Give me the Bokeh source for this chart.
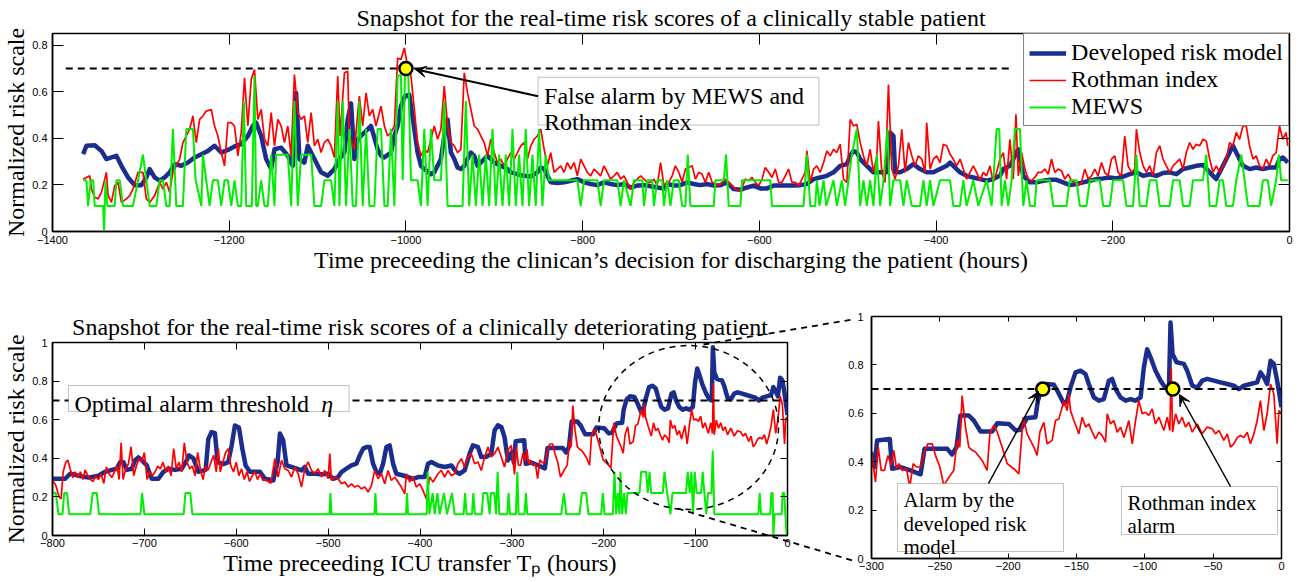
from bokeh.plotting import figure
from bokeh.models import (Range1d, LinearAxis, FixedTicker, Arrow, VeeHead, BoxAnnotation, Label,
                          GridBox, Plot)
from bokeh.embed import file_html
from bokeh.resources import INLINE

SERIF = "Liberation Serif"
SANS = "Liberation Sans"
BLUE = "#1b2d8d"
RED = "#ff0000"
GREEN = "#00ee00"

# ------------------------------------------------------------------ data
# Clinically stable patient (hours before discharge, normalized risk)
stable_model = [
    (-1365.3, 0.332), (-1361.6, 0.368), (-1352.2, 0.37), (-1344.6, 0.346), (-1339.0, 0.311), (-1333.3, 0.318),
    (-1327.7, 0.325), (-1322.0, 0.282), (-1314.5, 0.232), (-1307.0, 0.199), (-1299.4, 0.199), (-1293.8, 0.232),
    (-1290.0, 0.268), (-1284.4, 0.232), (-1278.7, 0.218), (-1273.1, 0.232), (-1267.4, 0.254), (-1261.8, 0.289),
    (-1254.2, 0.282), (-1246.7, 0.296), (-1239.2, 0.318), (-1231.6, 0.332), (-1224.1, 0.346), (-1216.6, 0.368),
    (-1209.0, 0.339), (-1201.5, 0.35), (-1194.0, 0.365), (-1186.4, 0.375), (-1178.9, 0.41), (-1173.3, 0.453),
    (-1169.5, 0.467), (-1163.8, 0.41), (-1158.2, 0.311), (-1152.5, 0.268), (-1148.8, 0.353), (-1141.2, 0.36),
    (-1133.7, 0.325), (-1128.1, 0.282), (-1124.3, 0.595), (-1120.5, 0.311), (-1114.9, 0.296), (-1111.1, 0.368),
    (-1103.6, 0.311), (-1096.0, 0.254), (-1088.5, 0.239), (-1081.0, 0.268), (-1075.3, 0.311), (-1069.6, 0.339),
    (-1065.9, 0.48), (-1062.1, 0.55), (-1058.3, 0.311), (-1054.6, 0.396), (-1047.0, 0.425), (-1039.5, 0.453),
    (-1032.0, 0.353), (-1028.2, 0.325), (-1024.4, 0.318), (-1016.9, 0.339), (-1013.1, 0.41), (-1009.4, 0.453),
    (-1005.6, 0.538), (-1001.1, 0.581), (-996.2, 0.588), (-990.5, 0.439), (-986.8, 0.339), (-983.0, 0.282),
    (-979.2, 0.268), (-971.7, 0.246), (-967.9, 0.254), (-964.2, 0.282), (-960.4, 0.311), (-956.6, 0.41),
    (-952.9, 0.481), (-949.1, 0.339), (-945.3, 0.311), (-941.6, 0.275), (-937.8, 0.268), (-934.0, 0.282),
    (-930.3, 0.311), (-926.5, 0.339), (-922.7, 0.325), (-919.0, 0.282), (-915.2, 0.296), (-911.4, 0.311),
    (-907.7, 0.325), (-903.9, 0.311), (-900.1, 0.296), (-896.4, 0.289), (-892.6, 0.282), (-888.8, 0.275),
    (-885.1, 0.268), (-881.3, 0.254), (-873.8, 0.246), (-866.2, 0.239), (-858.7, 0.236), (-851.2, 0.254),
    (-847.4, 0.275), (-843.6, 0.268), (-836.1, 0.211), (-828.6, 0.208), (-821.0, 0.211), (-813.5, 0.218),
    (-806.0, 0.225), (-798.4, 0.211), (-790.9, 0.204), (-783.4, 0.199), (-775.8, 0.211), (-768.3, 0.204),
    (-760.8, 0.199), (-753.2, 0.204), (-745.7, 0.189), (-738.2, 0.197), (-730.6, 0.199), (-723.1, 0.194),
    (-715.6, 0.189), (-708.0, 0.185), (-704.4, 0.204), (-696.8, 0.197), (-689.3, 0.199), (-681.8, 0.211),
    (-674.2, 0.204), (-666.7, 0.199), (-659.2, 0.204), (-651.6, 0.197), (-644.1, 0.199), (-636.6, 0.211),
    (-629.0, 0.182), (-621.5, 0.179), (-614.0, 0.189), (-606.4, 0.197), (-598.9, 0.185), (-591.4, 0.185),
    (-583.8, 0.197), (-576.3, 0.197), (-568.8, 0.197), (-561.2, 0.197), (-553.7, 0.199), (-546.2, 0.204),
    (-538.6, 0.225), (-531.1, 0.232), (-523.6, 0.239), (-516.1, 0.254), (-508.5, 0.282), (-501.0, 0.289),
    (-497.2, 0.325), (-493.5, 0.346), (-489.7, 0.339), (-485.9, 0.311), (-478.4, 0.282), (-470.9, 0.254),
    (-463.3, 0.254), (-455.8, 0.254), (-452.0, 0.425), (-448.2, 0.41), (-446.4, 0.254), (-440.7, 0.254),
    (-433.2, 0.268), (-425.7, 0.289), (-418.1, 0.268), (-410.6, 0.254), (-403.0, 0.254), (-395.5, 0.268),
    (-388.0, 0.282), (-384.2, 0.296), (-380.5, 0.282), (-372.9, 0.254), (-365.4, 0.239), (-357.9, 0.232),
    (-350.3, 0.225), (-342.8, 0.218), (-335.3, 0.225), (-327.7, 0.239), (-323.9, 0.268), (-316.4, 0.282),
    (-312.6, 0.311), (-307.0, 0.353), (-301.3, 0.239), (-293.8, 0.211), (-286.3, 0.211), (-278.7, 0.218),
    (-271.2, 0.222), (-263.7, 0.222), (-256.1, 0.211), (-248.6, 0.199), (-241.1, 0.204), (-233.5, 0.211),
    (-226.0, 0.218), (-218.5, 0.225), (-210.9, 0.228), (-203.4, 0.232), (-195.9, 0.228), (-188.3, 0.236),
    (-180.8, 0.246), (-173.3, 0.254), (-165.7, 0.239), (-158.2, 0.246), (-150.7, 0.239), (-143.1, 0.251),
    (-135.6, 0.254), (-128.1, 0.246), (-120.5, 0.268), (-113.0, 0.275), (-105.5, 0.282), (-97.9, 0.285),
    (-90.4, 0.254), (-82.9, 0.225), (-75.3, 0.282), (-67.8, 0.339), (-64.0, 0.368), (-60.3, 0.339),
    (-52.7, 0.282), (-45.2, 0.268), (-37.7, 0.275), (-30.1, 0.268), (-22.6, 0.275), (-15.1, 0.275),
    (-11.3, 0.311), (-7.6, 0.318), (-2.0, 0.296),
]

stable_rothman = [
    (-1365.3, 0.225), (-1361.6, 0.232), (-1357.8, 0.239), (-1355.9, 0.182), (-1352.2, 0.147), (-1348.4, 0.14),
    (-1344.6, 0.168), (-1339.0, 0.254), (-1337.1, 0.154), (-1333.3, 0.125), (-1329.6, 0.197), (-1325.8, 0.211),
    (-1322.0, 0.125), (-1316.4, 0.14), (-1312.6, 0.154), (-1308.9, 0.182), (-1303.2, 0.254), (-1297.6, 0.254),
    (-1293.8, 0.14), (-1290.0, 0.125), (-1284.4, 0.154), (-1278.7, 0.211), (-1275.0, 0.182), (-1271.2, 0.211),
    (-1267.4, 0.168), (-1263.7, 0.254), (-1259.9, 0.282), (-1256.1, 0.311), (-1252.4, 0.382), (-1248.6, 0.41),
    (-1244.8, 0.439), (-1241.1, 0.496), (-1237.3, 0.382), (-1233.5, 0.481), (-1229.8, 0.496), (-1226.0, 0.517),
    (-1220.3, 0.524), (-1216.6, 0.453), (-1212.8, 0.41), (-1209.0, 0.339), (-1205.3, 0.282), (-1201.5, 0.467),
    (-1197.7, 0.467), (-1194.0, 0.453), (-1190.2, 0.325), (-1186.4, 0.425), (-1182.7, 0.66), (-1178.9, 0.453),
    (-1175.1, 0.652), (-1171.4, 0.695), (-1167.6, 0.481), (-1163.8, 0.524), (-1160.1, 0.396), (-1156.3, 0.368),
    (-1152.5, 0.51), (-1148.8, 0.368), (-1145.0, 0.481), (-1141.2, 0.453), (-1137.5, 0.382), (-1133.7, 0.453),
    (-1129.9, 0.325), (-1126.2, 0.674), (-1122.4, 0.51), (-1118.6, 0.481), (-1114.9, 0.496), (-1111.1, 0.382),
    (-1107.3, 0.51), (-1103.6, 0.368), (-1099.8, 0.396), (-1096.0, 0.339), (-1092.3, 0.382), (-1088.5, 0.396),
    (-1084.7, 0.368), (-1081.0, 0.318), (-1077.2, 0.667), (-1074.5, 0.41), (-1069.6, 0.681), (-1065.9, 0.688),
    (-1064.0, 0.41), (-1058.3, 0.353), (-1052.7, 0.581), (-1048.9, 0.453), (-1045.1, 0.595), (-1041.4, 0.496),
    (-1037.6, 0.524), (-1033.9, 0.453), (-1028.2, 0.538), (-1024.4, 0.453), (-1020.7, 0.41), (-1016.9, 0.425),
    (-1013.1, 0.453), (-1009.4, 0.745), (-1005.6, 0.738), (-1001.8, 0.788), (-998.1, 0.709), (-994.3, 0.667),
    (-990.5, 0.524), (-986.8, 0.382), (-983.0, 0.325), (-979.2, 0.353), (-975.5, 0.339), (-971.7, 0.396),
    (-967.9, 0.453), (-964.2, 0.396), (-960.4, 0.439), (-956.6, 0.624), (-952.9, 0.453), (-949.1, 0.382),
    (-945.3, 0.368), (-941.6, 0.339), (-937.8, 0.353), (-934.0, 0.681), (-930.3, 0.595), (-926.5, 0.524),
    (-922.7, 0.453), (-919.0, 0.439), (-915.2, 0.41), (-911.4, 0.382), (-907.7, 0.325), (-903.9, 0.396),
    (-900.1, 0.339), (-896.4, 0.296), (-892.6, 0.311), (-888.8, 0.282), (-885.1, 0.311), (-881.3, 0.339),
    (-877.5, 0.311), (-873.8, 0.339), (-870.0, 0.368), (-866.2, 0.382), (-862.5, 0.311), (-858.7, 0.368),
    (-854.9, 0.396), (-851.2, 0.41), (-847.4, 0.439), (-843.6, 0.353), (-839.9, 0.282), (-836.1, 0.339),
    (-832.3, 0.254), (-828.6, 0.268), (-824.8, 0.282), (-821.0, 0.254), (-817.3, 0.296), (-813.5, 0.268),
    (-809.7, 0.296), (-806.0, 0.239), (-802.2, 0.311), (-798.4, 0.282), (-794.7, 0.254), (-790.9, 0.239),
    (-787.1, 0.268), (-783.4, 0.254), (-779.6, 0.239), (-775.8, 0.282), (-772.1, 0.254), (-768.3, 0.225),
    (-764.5, 0.239), (-760.8, 0.254), (-757.0, 0.225), (-753.2, 0.239), (-749.5, 0.211), (-745.7, 0.182),
    (-741.9, 0.211), (-738.2, 0.225), (-734.4, 0.239), (-730.6, 0.225), (-726.9, 0.211), (-723.1, 0.211),
    (-719.3, 0.225), (-715.6, 0.197), (-711.8, 0.296), (-708.0, 0.197), (-704.3, 0.211), (-702.5, 0.211),
    (-698.7, 0.239), (-695.0, 0.282), (-691.2, 0.254), (-687.4, 0.211), (-683.7, 0.268), (-679.9, 0.275),
    (-676.1, 0.282), (-672.4, 0.225), (-668.6, 0.254), (-664.8, 0.246), (-661.1, 0.211), (-657.3, 0.254),
    (-653.5, 0.211), (-649.8, 0.204), (-646.0, 0.197), (-642.2, 0.211), (-638.5, 0.225), (-634.7, 0.211),
    (-630.9, 0.197), (-627.2, 0.182), (-623.4, 0.175), (-619.6, 0.189), (-615.9, 0.225), (-612.1, 0.218),
    (-608.3, 0.232), (-604.6, 0.211), (-600.8, 0.197), (-597.0, 0.225), (-593.3, 0.275), (-589.5, 0.254),
    (-585.7, 0.232), (-582.0, 0.268), (-578.2, 0.211), (-574.4, 0.211), (-570.7, 0.239), (-566.9, 0.268),
    (-563.1, 0.211), (-559.4, 0.211), (-555.6, 0.197), (-551.8, 0.225), (-548.1, 0.254), (-546.2, 0.346),
    (-542.4, 0.211), (-538.6, 0.268), (-534.9, 0.282), (-531.1, 0.254), (-527.3, 0.296), (-523.6, 0.346),
    (-519.8, 0.325), (-516.1, 0.353), (-512.3, 0.339), (-508.5, 0.375), (-504.8, 0.225), (-501.0, 0.211),
    (-497.2, 0.481), (-493.5, 0.453), (-489.7, 0.46), (-485.9, 0.382), (-482.2, 0.325), (-478.4, 0.282),
    (-474.6, 0.353), (-470.9, 0.254), (-467.1, 0.325), (-465.2, 0.474), (-461.4, 0.254), (-457.7, 0.211),
    (-453.9, 0.631), (-450.1, 0.268), (-446.4, 0.225), (-442.6, 0.282), (-438.8, 0.439), (-435.1, 0.254),
    (-431.3, 0.382), (-427.5, 0.325), (-423.8, 0.282), (-420.0, 0.325), (-416.2, 0.311), (-412.5, 0.254),
    (-410.6, 0.467), (-406.8, 0.268), (-403.0, 0.311), (-399.3, 0.325), (-395.5, 0.296), (-391.8, 0.375),
    (-388.0, 0.368), (-384.2, 0.332), (-380.5, 0.311), (-376.7, 0.282), (-372.9, 0.311), (-369.2, 0.268),
    (-365.4, 0.225), (-361.6, 0.254), (-357.9, 0.282), (-354.1, 0.254), (-350.3, 0.218), (-346.6, 0.254),
    (-342.8, 0.239), (-339.0, 0.282), (-335.3, 0.211), (-331.5, 0.254), (-327.7, 0.311), (-323.9, 0.339),
    (-320.2, 0.225), (-316.4, 0.396), (-312.6, 0.225), (-309.6, 0.503), (-307.0, 0.239), (-303.2, 0.339),
    (-299.5, 0.268), (-295.7, 0.225), (-291.9, 0.218), (-288.2, 0.232), (-284.4, 0.254), (-280.6, 0.254),
    (-276.9, 0.268), (-273.1, 0.246), (-269.3, 0.311), (-265.6, 0.254), (-261.8, 0.268), (-258.0, 0.261),
    (-254.3, 0.225), (-250.5, 0.246), (-246.7, 0.218), (-243.0, 0.211), (-239.2, 0.197), (-235.4, 0.211),
    (-231.7, 0.268), (-227.9, 0.225), (-224.1, 0.239), (-220.4, 0.268), (-216.6, 0.239), (-212.8, 0.296),
    (-209.1, 0.254), (-205.3, 0.239), (-201.5, 0.311), (-197.8, 0.325), (-194.0, 0.254), (-190.2, 0.239),
    (-186.5, 0.41), (-182.7, 0.282), (-178.9, 0.254), (-175.2, 0.268), (-173.3, 0.439), (-169.5, 0.339),
    (-165.7, 0.282), (-162.0, 0.254), (-158.2, 0.282), (-154.4, 0.239), (-150.7, 0.339), (-146.9, 0.368),
    (-143.1, 0.311), (-139.4, 0.282), (-135.6, 0.254), (-131.8, 0.282), (-128.1, 0.296), (-124.3, 0.311),
    (-120.5, 0.268), (-116.8, 0.339), (-113.0, 0.382), (-109.2, 0.353), (-105.5, 0.375), (-101.7, 0.368),
    (-97.9, 0.396), (-94.2, 0.389), (-90.4, 0.311), (-86.6, 0.254), (-82.9, 0.282), (-79.1, 0.254),
    (-75.3, 0.282), (-71.6, 0.311), (-67.8, 0.382), (-64.0, 0.368), (-60.3, 0.425), (-56.5, 0.396),
    (-52.7, 0.453), (-49.0, 0.453), (-45.2, 0.368), (-41.4, 0.311), (-37.7, 0.325), (-33.9, 0.282),
    (-30.1, 0.268), (-26.4, 0.311), (-22.6, 0.282), (-18.9, 0.325), (-15.1, 0.339), (-11.3, 0.453),
    (-7.6, 0.396), (-3.8, 0.425), (-2.0, 0.368),
]

stable_mews = [
    (-1365.3, 0.22), (-1361.6, 0.22), (-1359.7, 0.11), (-1356.7, 0.22), (-1354.0, 0.22), (-1352.2, 0.11),
    (-1342.7, 0.11), (-1341.6, 0.0), (-1340.1, 0.22), (-1337.9, 0.11), (-1329.6, 0.11), (-1327.7, 0.22),
    (-1323.9, 0.22), (-1320.2, 0.11), (-1308.9, 0.11), (-1303.2, 0.22), (-1297.6, 0.33), (-1293.8, 0.22),
    (-1290.0, 0.11), (-1282.5, 0.11), (-1278.7, 0.22), (-1275.0, 0.22), (-1271.2, 0.11), (-1267.4, 0.11),
    (-1263.7, 0.44), (-1259.9, 0.11), (-1252.4, 0.11), (-1248.6, 0.44), (-1241.1, 0.44), (-1238.0, 0.22),
    (-1231.6, 0.11), (-1229.8, 0.33), (-1226.0, 0.22), (-1222.2, 0.11), (-1218.5, 0.22), (-1212.8, 0.22),
    (-1209.0, 0.11), (-1205.3, 0.22), (-1201.5, 0.22), (-1197.7, 0.11), (-1194.0, 0.22), (-1190.2, 0.11),
    (-1186.4, 0.11), (-1183.4, 0.56), (-1180.8, 0.11), (-1174.4, 0.11), (-1171.4, 0.67), (-1169.5, 0.11),
    (-1167.6, 0.11), (-1163.8, 0.22), (-1160.1, 0.11), (-1156.3, 0.11), (-1152.5, 0.33), (-1148.8, 0.11),
    (-1146.9, 0.33), (-1133.7, 0.33), (-1129.9, 0.11), (-1126.2, 0.56), (-1122.4, 0.11), (-1118.6, 0.33),
    (-1107.3, 0.33), (-1103.6, 0.11), (-1096.0, 0.11), (-1092.3, 0.22), (-1084.7, 0.22), (-1081.0, 0.11),
    (-1077.2, 0.56), (-1075.3, 0.11), (-1071.5, 0.56), (-1067.8, 0.11), (-1064.0, 0.44), (-1060.2, 0.11),
    (-1056.5, 0.11), (-1052.7, 0.56), (-1048.9, 0.11), (-1045.1, 0.44), (-1041.4, 0.11), (-1035.7, 0.11),
    (-1032.0, 0.44), (-1028.2, 0.44), (-1024.4, 0.11), (-1020.7, 0.11), (-1016.9, 0.44), (-1013.1, 0.11),
    (-1009.4, 0.67), (-1005.6, 0.67), (-1003.7, 0.22), (-1001.1, 0.67), (-997.3, 0.67), (-994.3, 0.22),
    (-986.8, 0.22), (-983.0, 0.11), (-979.2, 0.44), (-975.5, 0.11), (-971.7, 0.44), (-967.9, 0.22),
    (-960.4, 0.22), (-956.6, 0.56), (-952.9, 0.11), (-935.9, 0.11), (-932.2, 0.56), (-928.4, 0.11),
    (-924.6, 0.33), (-920.9, 0.11), (-917.1, 0.33), (-913.3, 0.11), (-909.6, 0.33), (-905.8, 0.11),
    (-902.0, 0.44), (-898.3, 0.11), (-894.5, 0.33), (-890.7, 0.11), (-887.0, 0.33), (-883.2, 0.11),
    (-879.4, 0.44), (-875.7, 0.11), (-871.9, 0.33), (-868.1, 0.11), (-864.4, 0.44), (-860.6, 0.11),
    (-856.8, 0.33), (-853.1, 0.11), (-849.3, 0.44), (-845.5, 0.11), (-841.8, 0.33), (-838.0, 0.22),
    (-806.0, 0.22), (-802.2, 0.11), (-798.4, 0.22), (-783.4, 0.22), (-779.6, 0.11), (-775.8, 0.22),
    (-760.8, 0.22), (-757.0, 0.11), (-753.2, 0.22), (-745.7, 0.11), (-741.9, 0.22), (-732.5, 0.22),
    (-730.6, 0.11), (-726.9, 0.22), (-721.2, 0.22), (-719.3, 0.11), (-715.6, 0.22), (-709.9, 0.22),
    (-708.0, 0.11), (-704.4, 0.22), (-700.6, 0.11), (-696.8, 0.22), (-691.2, 0.22), (-687.4, 0.11),
    (-683.7, 0.11), (-681.0, 0.33), (-678.0, 0.11), (-651.6, 0.11), (-649.8, 0.22), (-640.3, 0.22),
    (-637.7, 0.33), (-634.7, 0.11), (-621.5, 0.11), (-619.6, 0.22), (-587.6, 0.22), (-585.7, 0.11),
    (-549.9, 0.11), (-546.2, 0.33), (-542.4, 0.11), (-536.8, 0.11), (-534.9, 0.22), (-531.9, 0.11),
    (-527.3, 0.22), (-524.3, 0.11), (-516.1, 0.22), (-512.3, 0.11), (-506.6, 0.22), (-502.9, 0.11),
    (-495.3, 0.33), (-489.7, 0.44), (-485.9, 0.11), (-482.2, 0.22), (-478.4, 0.11), (-474.6, 0.22),
    (-470.9, 0.11), (-467.1, 0.33), (-463.3, 0.11), (-459.5, 0.22), (-455.0, 0.44), (-452.0, 0.11),
    (-448.2, 0.22), (-440.7, 0.22), (-436.9, 0.11), (-433.2, 0.22), (-427.5, 0.11), (-418.1, 0.11),
    (-414.3, 0.22), (-410.6, 0.11), (-406.8, 0.22), (-403.0, 0.11), (-395.5, 0.22), (-384.2, 0.22),
    (-380.5, 0.11), (-372.9, 0.11), (-369.2, 0.22), (-365.4, 0.11), (-357.9, 0.22), (-352.2, 0.11),
    (-342.8, 0.22), (-337.1, 0.11), (-331.5, 0.44), (-328.5, 0.44), (-325.8, 0.11), (-322.1, 0.22),
    (-318.3, 0.11), (-314.5, 0.22), (-310.8, 0.44), (-305.1, 0.44), (-301.3, 0.11), (-297.6, 0.22),
    (-293.8, 0.11), (-288.2, 0.11), (-286.3, 0.22), (-271.2, 0.22), (-267.4, 0.11), (-252.4, 0.11),
    (-248.6, 0.22), (-241.1, 0.22), (-237.3, 0.11), (-229.8, 0.11), (-226.0, 0.22), (-214.7, 0.22),
    (-210.9, 0.11), (-203.4, 0.11), (-199.6, 0.22), (-188.3, 0.22), (-184.6, 0.11), (-177.0, 0.11),
    (-173.3, 0.33), (-169.5, 0.11), (-162.0, 0.11), (-158.2, 0.22), (-150.7, 0.22), (-146.9, 0.11),
    (-135.6, 0.11), (-131.8, 0.22), (-124.3, 0.22), (-120.5, 0.11), (-113.0, 0.11), (-109.2, 0.22),
    (-97.9, 0.22), (-94.2, 0.33), (-90.4, 0.11), (-82.9, 0.11), (-79.1, 0.22), (-75.3, 0.22),
    (-71.6, 0.11), (-64.0, 0.11), (-60.3, 0.22), (-54.6, 0.33), (-50.8, 0.22), (-47.1, 0.11),
    (-33.9, 0.11), (-30.1, 0.22), (-24.5, 0.22), (-20.8, 0.11), (-15.1, 0.22), (-12.1, 0.33),
    (-9.5, 0.22), (-2.0, 0.22),
]

stable_alarm = [(-1000.0, 0.70)]          # false alarm (MEWS and Rothman)
threshold = 0.70
stable_threshold_span = (-1385.0, -315.0)

# Clinically deteriorating patient (hours before ICU transfer)
det_model = [
    (-800.0, 0.294), (-786.2, 0.294), (-780.8, 0.32), (-771.7, 0.31), (-760.9, 0.30), (-750.0, 0.31),
    (-742.7, 0.33), (-735.5, 0.34), (-730.1, 0.346), (-726.4, 0.38), (-722.8, 0.38), (-719.2, 0.34),
    (-713.7, 0.346), (-710.1, 0.39), (-706.5, 0.405), (-702.9, 0.39), (-697.4, 0.363), (-692.0, 0.294),
    (-684.8, 0.294), (-679.3, 0.33), (-673.9, 0.346), (-666.6, 0.34), (-659.4, 0.346), (-655.0, 0.38),
    (-651.4, 0.415), (-646.7, 0.40), (-641.3, 0.33), (-633.3, 0.34), (-630.4, 0.50), (-626.8, 0.536),
    (-623.2, 0.53), (-620.3, 0.38), (-614.1, 0.37), (-608.7, 0.38), (-605.0, 0.467), (-601.4, 0.57),
    (-597.1, 0.56), (-593.4, 0.45), (-589.8, 0.363), (-585.1, 0.33), (-574.2, 0.33), (-568.8, 0.294),
    (-559.7, 0.285), (-555.0, 0.38), (-552.5, 0.528), (-548.9, 0.493), (-545.3, 0.363), (-539.9, 0.355),
    (-534.4, 0.346), (-529.0, 0.337), (-525.4, 0.355), (-521.7, 0.32), (-514.5, 0.32), (-507.2, 0.317),
    (-500.0, 0.32), (-494.6, 0.294), (-489.1, 0.303), (-485.5, 0.329), (-480.1, 0.346), (-474.6, 0.363),
    (-469.2, 0.372), (-465.6, 0.415), (-461.9, 0.45), (-458.3, 0.458), (-454.7, 0.458), (-451.1, 0.372),
    (-447.4, 0.329), (-443.8, 0.32), (-440.2, 0.372), (-436.6, 0.458), (-433.0, 0.467), (-429.3, 0.372),
    (-425.7, 0.32), (-418.5, 0.311), (-413.0, 0.303), (-407.6, 0.294), (-402.1, 0.303), (-394.9, 0.303),
    (-391.3, 0.372), (-387.6, 0.381), (-380.4, 0.363), (-373.2, 0.355), (-365.9, 0.363), (-360.5, 0.329),
    (-356.9, 0.32), (-351.4, 0.337), (-346.0, 0.424), (-342.4, 0.467), (-336.9, 0.458), (-333.3, 0.407),
    (-327.9, 0.407), (-322.4, 0.424), (-318.8, 0.545), (-315.2, 0.571), (-311.5, 0.562), (-308.0, 0.51),
    (-304.3, 0.389), (-300.0, 0.433), (-297.8, 0.378), (-295.9, 0.488), (-286.6, 0.494), (-284.9, 0.371),
    (-278.8, 0.378), (-271.5, 0.364), (-264.1, 0.348), (-261.2, 0.453), (-244.6, 0.453), (-241.0, 0.43),
    (-237.8, 0.46), (-234.9, 0.591), (-228.8, 0.591), (-225.1, 0.57), (-220.2, 0.525), (-211.7, 0.525),
    (-208.0, 0.559), (-199.5, 0.556), (-194.6, 0.529), (-191.0, 0.532), (-186.1, 0.581), (-180.0, 0.584),
    (-178.3, 0.652), (-175.1, 0.705), (-171.5, 0.721), (-166.6, 0.718), (-164.1, 0.694), (-159.2, 0.639),
    (-156.8, 0.652), (-154.4, 0.707), (-150.7, 0.769), (-147.0, 0.776), (-143.4, 0.762), (-141.0, 0.721),
    (-137.3, 0.666), (-133.6, 0.652), (-130.0, 0.659), (-126.3, 0.735), (-123.9, 0.742), (-121.4, 0.701),
    (-117.8, 0.666), (-114.1, 0.652), (-110.5, 0.659), (-106.8, 0.652), (-103.1, 0.666), (-100.7, 0.79),
    (-98.3, 0.865), (-95.8, 0.831), (-92.2, 0.776), (-88.5, 0.735), (-84.9, 0.705), (-82.4, 0.70),
    (-81.2, 0.975), (-79.7, 0.845), (-76.8, 0.811), (-71.4, 0.804), (-69.0, 0.776), (-65.3, 0.715),
    (-61.7, 0.705), (-58.0, 0.735), (-54.4, 0.742), (-49.5, 0.735), (-44.6, 0.728), (-39.7, 0.721),
    (-34.9, 0.714), (-31.2, 0.70), (-27.5, 0.714), (-22.7, 0.721), (-17.8, 0.728), (-15.4, 0.769),
    (-12.9, 0.749), (-10.5, 0.721), (-8.0, 0.817), (-5.6, 0.804), (-3.2, 0.735), (0.0, 0.625),
]

det_rothman = [
    (-800.0, 0.285), (-796.4, 0.26), (-792.8, 0.20), (-790.6, 0.19), (-788.4, 0.33), (-785.5, 0.38),
    (-783.3, 0.39), (-780.8, 0.345), (-777.9, 0.30), (-775.4, 0.33), (-772.5, 0.30), (-769.6, 0.33),
    (-766.7, 0.29), (-764.5, 0.34), (-761.6, 0.31), (-758.7, 0.29), (-755.8, 0.28), (-752.9, 0.31),
    (-750.0, 0.29), (-747.1, 0.32), (-744.2, 0.27), (-741.3, 0.355), (-738.4, 0.32), (-735.5, 0.30),
    (-732.6, 0.33), (-729.7, 0.36), (-727.5, 0.29), (-725.3, 0.48), (-723.2, 0.29), (-720.3, 0.345),
    (-717.4, 0.37), (-714.5, 0.46), (-711.6, 0.31), (-708.7, 0.36), (-705.8, 0.40), (-702.9, 0.38),
    (-700.0, 0.43), (-697.1, 0.29), (-694.2, 0.33), (-691.3, 0.31), (-688.4, 0.33), (-685.5, 0.36),
    (-682.6, 0.345), (-679.7, 0.38), (-676.8, 0.33), (-673.9, 0.36), (-671.0, 0.31), (-668.1, 0.45),
    (-665.2, 0.345), (-662.3, 0.38), (-659.4, 0.33), (-656.5, 0.48), (-653.6, 0.38), (-650.7, 0.345),
    (-647.8, 0.36), (-644.9, 0.31), (-642.0, 0.43), (-639.1, 0.345), (-636.2, 0.29), (-633.3, 0.36),
    (-630.4, 0.34), (-627.5, 0.38), (-624.6, 0.415), (-621.7, 0.33), (-619.5, 0.45), (-617.4, 0.33),
    (-614.5, 0.38), (-611.6, 0.43), (-608.7, 0.45), (-605.8, 0.36), (-602.9, 0.33), (-600.0, 0.38),
    (-597.1, 0.31), (-594.2, 0.345), (-591.3, 0.29), (-588.4, 0.33), (-585.5, 0.28), (-582.6, 0.31),
    (-579.7, 0.33), (-576.8, 0.29), (-573.9, 0.32), (-571.0, 0.285), (-568.1, 0.29), (-565.2, 0.28),
    (-562.3, 0.27), (-558.0, 0.398), (-554.4, 0.303), (-550.7, 0.389), (-547.1, 0.346), (-543.5, 0.337),
    (-539.9, 0.303), (-536.2, 0.355), (-532.6, 0.32), (-529.0, 0.251), (-525.4, 0.346), (-521.7, 0.381),
    (-518.1, 0.337), (-514.5, 0.32), (-510.9, 0.346), (-507.2, 0.303), (-503.6, 0.337), (-500.0, 0.294),
    (-498.2, 0.424), (-496.4, 0.285), (-492.7, 0.303), (-489.1, 0.294), (-485.5, 0.268), (-481.9, 0.277),
    (-478.2, 0.251), (-474.6, 0.268), (-471.0, 0.251), (-467.4, 0.259), (-463.8, 0.242), (-460.1, 0.251),
    (-456.5, 0.225), (-452.9, 0.259), (-449.3, 0.337), (-445.6, 0.294), (-442.0, 0.32), (-438.4, 0.268),
    (-434.8, 0.337), (-431.1, 0.285), (-427.5, 0.303), (-423.9, 0.277), (-420.3, 0.251), (-416.6, 0.216),
    (-414.8, 0.32), (-411.2, 0.277), (-407.6, 0.303), (-404.0, 0.251), (-400.3, 0.268), (-396.7, 0.234),
    (-393.1, 0.19), (-389.5, 0.303), (-385.8, 0.277), (-380.4, 0.32), (-376.8, 0.337), (-373.2, 0.303),
    (-369.5, 0.337), (-365.9, 0.311), (-362.3, 0.32), (-358.7, 0.372), (-355.0, 0.398), (-351.4, 0.355),
    (-347.8, 0.407), (-344.2, 0.424), (-340.5, 0.372), (-336.9, 0.381), (-333.3, 0.337), (-329.7, 0.407),
    (-326.0, 0.458), (-322.4, 0.407), (-318.8, 0.424), (-315.2, 0.458), (-311.5, 0.407), (-308.0, 0.355),
    (-304.3, 0.441), (-300.7, 0.467), (-299.5, 0.419), (-297.1, 0.316), (-295.1, 0.46), (-292.9, 0.364),
    (-290.5, 0.364), (-288.0, 0.426), (-285.6, 0.385), (-283.7, 0.447), (-281.7, 0.371), (-280.0, 0.392),
    (-277.6, 0.364), (-274.4, 0.371), (-272.0, 0.295), (-269.5, 0.392), (-267.1, 0.378), (-264.1, 0.378),
    (-261.7, 0.433), (-258.8, 0.474), (-255.6, 0.474), (-253.2, 0.426), (-250.0, 0.378), (-247.1, 0.302),
    (-243.4, 0.336), (-239.8, 0.364), (-237.3, 0.488), (-235.4, 0.46), (-233.7, 0.673), (-231.2, 0.543),
    (-228.8, 0.46), (-226.3, 0.447), (-223.9, 0.44), (-219.0, 0.405), (-215.4, 0.364), (-213.4, 0.515),
    (-210.5, 0.55), (-208.0, 0.522), (-204.4, 0.46), (-200.7, 0.392), (-195.9, 0.371), (-192.2, 0.35),
    (-189.0, 0.584), (-186.1, 0.515), (-183.7, 0.488), (-181.2, 0.46), (-178.8, 0.426), (-176.8, 0.522),
    (-173.9, 0.563), (-171.5, 0.474), (-167.8, 0.488), (-165.4, 0.57), (-162.9, 0.577), (-159.2, 0.652),
    (-156.8, 0.611), (-155.6, 0.68), (-154.4, 0.611), (-151.9, 0.57), (-148.3, 0.515), (-145.8, 0.584),
    (-143.4, 0.543), (-141.0, 0.556), (-138.5, 0.522), (-136.1, 0.494), (-133.6, 0.522), (-131.2, 0.508),
    (-128.8, 0.481), (-127.5, 0.598), (-125.1, 0.556), (-122.7, 0.57), (-120.2, 0.522), (-117.8, 0.543),
    (-115.3, 0.50), (-111.7, 0.57), (-109.2, 0.474), (-106.8, 0.57), (-104.4, 0.652), (-101.9, 0.598),
    (-99.5, 0.604), (-97.0, 0.591), (-94.6, 0.618), (-92.2, 0.556), (-89.7, 0.584), (-86.1, 0.529),
    (-83.6, 0.584), (-81.7, 0.529), (-80.7, 0.79), (-79.7, 0.522), (-77.5, 0.598), (-75.1, 0.556),
    (-72.7, 0.584), (-70.2, 0.543), (-67.8, 0.563), (-65.3, 0.522), (-61.7, 0.556), (-58.0, 0.515),
    (-54.4, 0.543), (-50.7, 0.536), (-48.3, 0.515), (-45.8, 0.529), (-42.2, 0.488), (-39.7, 0.515),
    (-37.3, 0.46), (-34.9, 0.474), (-32.4, 0.50), (-30.0, 0.508), (-27.5, 0.50), (-25.1, 0.522),
    (-22.7, 0.474), (-20.2, 0.515), (-17.8, 0.57), (-15.4, 0.652), (-12.9, 0.529), (-10.5, 0.598),
    (-8.0, 0.721), (-5.6, 0.68), (-3.2, 0.474), (-1.9, 0.611), (0.0, 0.598),
]

det_mews = [
    (-800.0, 0.22), (-796.4, 0.22), (-793.5, 0.11), (-789.1, 0.11), (-787.3, 0.22), (-784.1, 0.22),
    (-781.9, 0.11), (-759.0, 0.11), (-756.2, 0.22), (-751.8, 0.22), (-749.3, 0.11), (-704.3, 0.11),
    (-702.5, 0.22), (-700.0, 0.11), (-657.2, 0.11), (-655.4, 0.22), (-650.0, 0.22), (-647.8, 0.11),
    (-498.5, 0.11), (-497.5, 0.22), (-496.4, 0.11), (-449.6, 0.11), (-448.5, 0.22), (-447.4, 0.11),
    (-415.2, 0.11), (-414.1, 0.22), (-413.0, 0.11), (-392.7, 0.11), (-391.6, 0.33), (-389.8, 0.11),
    (-386.2, 0.22), (-384.0, 0.11), (-381.1, 0.22), (-378.6, 0.11), (-373.9, 0.22), (-370.6, 0.11),
    (-365.2, 0.22), (-362.3, 0.11), (-352.5, 0.11), (-351.0, 0.22), (-349.2, 0.11), (-343.4, 0.11),
    (-342.0, 0.22), (-340.2, 0.11), (-332.9, 0.11), (-331.1, 0.22), (-326.8, 0.22), (-324.2, 0.11),
    (-322.8, 0.22), (-319.2, 0.22), (-317.3, 0.11), (-315.5, 0.33), (-313.7, 0.11), (-305.0, 0.11),
    (-303.6, 0.22), (-302.1, 0.11), (-295.6, 0.11), (-294.1, 0.33), (-292.7, 0.11), (-286.2, 0.11),
    (-284.7, 0.22), (-283.3, 0.11), (-246.3, 0.11), (-243.4, 0.22), (-240.8, 0.11), (-226.4, 0.11),
    (-223.8, 0.22), (-219.1, 0.22), (-216.6, 0.11), (-202.8, 0.11), (-201.0, 0.22), (-199.2, 0.11),
    (-190.1, 0.11), (-188.3, 0.33), (-186.5, 0.11), (-184.7, 0.22), (-182.9, 0.11), (-181.8, 0.33),
    (-180.0, 0.11), (-177.8, 0.22), (-176.0, 0.11), (-174.2, 0.22), (-161.1, 0.22), (-159.3, 0.33),
    (-153.9, 0.33), (-152.1, 0.22), (-150.2, 0.33), (-148.4, 0.22), (-135.7, 0.22), (-133.9, 0.33),
    (-131.0, 0.22), (-127.4, 0.11), (-125.2, 0.22), (-110.4, 0.22), (-108.6, 0.33), (-106.4, 0.22),
    (-104.6, 0.33), (-102.8, 0.11), (-101.0, 0.33), (-98.8, 0.22), (-94.1, 0.22), (-92.3, 0.33),
    (-90.5, 0.22), (-88.3, 0.11), (-86.5, 0.22), (-82.8, 0.22), (-81.4, 0.44), (-79.6, 0.11),
    (-31.7, 0.11), (-30.3, 0.22), (-28.8, 0.11), (-18.7, 0.11), (-17.6, 0.22), (-16.2, 0.22),
    (-15.4, 0.0), (-14.0, 0.11), (-6.4, 0.11), (-5.3, 0.22), (-3.5, 0.22), (-2.4, 0.11), (-0.9, 0.0),
]

det_alarms = [(-174.7, 0.70), (-79.5, 0.70)]   # developed model alarm, Rothman index alarm
zoom_window = (-300, 0)

# ticks
top_xticks = [-1400, -1200, -1000, -800, -600, -400, -200, 0]
top_xlabels = ["\u22121400", "\u22121200", "\u22121000", "\u2212800", "\u2212600", "\u2212400", "\u2212200", "0"]
top_yticks = [0, 0.2, 0.4, 0.6, 0.8]
top_ylabels = ["0", "0.2", "0.4", "0.6", "0.8"]
bl_xticks = [-800, -700, -600, -500, -400, -300, -200, -100, 0]
bl_xlabels = ["\u2212800", "\u2212700", "\u2212600", "\u2212500", "\u2212400", "\u2212300", "\u2212200", "\u2212100", "0"]
unit_yticks = [0, 0.2, 0.4, 0.6, 0.8, 1.0]
unit_ylabels = ["0", "0.2", "0.4", "0.6", "0.8", "1"]
br_xticks = [-300, -250, -200, -150, -100, -50, 0]
br_xlabels = ["\u2212300", "\u2212250", "\u2212200", "\u2212150", "\u2212100", "\u221250", "0"]


def split(pairs):
    return [a for a, _ in pairs], [b for _, b in pairs]


# ------------------------------------------------------------------ helpers
NOALIGN = {"frame_align": False} if "frame_align" in Plot.properties() else {}


class Frame:
    """page-pixel geometry of a plot frame, used to place annotations"""
    def __init__(self, l, r, t, b, xr, yr):
        self.l, self.r, self.t, self.b, self.xr, self.yr = l, r, t, b, xr, yr

    def x(self, px):
        return self.xr[0] + (px - self.l) * (self.xr[1] - self.xr[0]) / (self.r - self.l)

    def y(self, py):
        return self.yr[0] + (self.b - py) * (self.yr[1] - self.yr[0]) / (self.b - self.t)


def style(p, xt, xl, yt, yl, tick, xstand, ystand, xlabel=None, ylabel=None):
    p.xgrid.visible = False
    p.ygrid.visible = False
    p.outline_line_color = "black"
    p.outline_line_width = 1.5
    p.background_fill_color = "white"
    p.border_fill_color = "white"
    xa, ya = p.below[0], p.left[0]
    if xlabel:
        xa.axis_label = xlabel
    if ylabel:
        ya.axis_label = ylabel
    xa.ticker = FixedTicker(ticks=xt)
    ya.ticker = FixedTicker(ticks=yt)
    xa.major_label_overrides = {t: l for t, l in zip(xt, xl)}
    ya.major_label_overrides = {t: l for t, l in zip(yt, yl)}
    for ax, st in ((xa, xstand), (ya, ystand)):
        ax.major_tick_in = tick
        ax.major_tick_out = 0
        ax.minor_tick_in = 0
        ax.minor_tick_out = 0
        ax.major_tick_line_color = "black"
        ax.major_tick_line_width = 1
        ax.axis_line_color = "black"
        ax.axis_line_width = 1.5
        ax.major_label_text_font = SANS
        ax.major_label_text_font_size = "11px"
        ax.major_label_text_color = "black"
        ax.major_label_standoff = st
        ax.axis_label_text_font = SERIF
        ax.axis_label_text_font_size = "24px"
        ax.axis_label_text_font_style = "normal"
        ax.axis_label_text_color = "black"
        ax.axis_label_standoff = 0
    # mirrored tick marks (MATLAB box style), no labels
    for side, t in (("above", xt), ("right", yt)):
        ax = LinearAxis(ticker=FixedTicker(ticks=t), major_label_text_font_size="1px",
                        major_label_text_color=None, major_label_standoff=0,
                        major_tick_in=tick, major_tick_out=0, minor_tick_in=0, minor_tick_out=0,
                        axis_line_color=None, major_tick_line_color="black")
        p.add_layout(ax, side)


def box(p, fr, x0, y0, x1, y1):
    p.add_layout(BoxAnnotation(left=fr.x(x0), right=fr.x(x1), top=fr.y(y0), bottom=fr.y(y1),
                               fill_color="white", fill_alpha=1.0, line_color="#333333",
                               line_width=1, level="annotation"))


def text(p, fr, px, py, s, size, style_="normal"):
    p.add_layout(Label(x=fr.x(px), y=fr.y(py), text=s, text_font=SERIF, text_font_size=size,
                       text_font_style=style_, text_color="black", text_baseline="alphabetic",
                       text_align="left"))


def arrow(p, fr, p0, p1, width=2.0):
    p.add_layout(Arrow(x_start=fr.x(p0[0]), y_start=fr.y(p0[1]), x_end=fr.x(p1[0]), y_end=fr.y(p1[1]),
                       line_color="black", line_width=width,
                       end=VeeHead(size=11, fill_color="black", line_color="black", line_width=1)))


def title(p, s, standoff):
    p.title.text = s
    p.title.align = "center"
    p.title.text_font = SERIF
    p.title.text_font_size = "24px"
    p.title.text_font_style = "normal"
    p.title.text_color = "black"
    p.title.standoff = standoff


# ------------------------------------------------------------------ top panel
TOP = Frame(51, 1289, 32, 231, (-1400, 0), (0, 0.85))
top = figure(width=1304, height=290, x_range=Range1d(*TOP.xr), y_range=Range1d(*TOP.yr),
             output_backend="svg", toolbar_location=None,
             min_border_left=51, min_border_right=15, min_border_top=32, min_border_bottom=59, **NOALIGN)
style(top, top_xticks, top_xlabels, top_yticks, top_ylabels, 11, 4, 5,
      "Time preceeding the clinican\u2019s decision for discharging the patient (hours)", "Normalized risk scale")
title(top, "Snapshot for the real-time risk scores of a clinically stable patient", 5)

tx, tv = split(stable_model)
top.line(tx, tv, line_color=BLUE, line_width=4.5, line_join="round", legend_label="Developed risk model")
tx, tv = split(stable_rothman)
top.line(tx, tv, line_color=RED, line_width=1.7, legend_label="Rothman index")
tx, tv = split(stable_mews)
top.line(tx, tv, line_color=GREEN, line_width=2.0, legend_label="MEWS")
top.line(list(stable_threshold_span), [threshold, threshold], line_color="black", line_width=2, line_dash="7 5")
ax_, ay_ = split(stable_alarm)
top.scatter(ax_, ay_, size=13, fill_color="yellow", line_color="black", line_width=2.5)

leg = top.legend[0]
leg.location = "top_right"
leg.margin = 0
leg.padding = 5
leg.spacing = 0
leg.glyph_width = 37
leg.label_standoff = 5
leg.border_line_color = "black"
leg.border_line_width = 1
leg.background_fill_alpha = 1
leg.label_text_font = SERIF
leg.label_text_font_size = "24px"
leg.label_text_color = "black"

box(top, TOP, 537, 76, 818, 124)
text(top, TOP, 543, 94.5, "False alarm by MEWS and", "24px")
text(top, TOP, 543, 120.5, "Rothman index", "24px")
arrow(top, TOP, (537, 95), (414, 68))

# ------------------------------------------------------------------ bottom-left panel
BL = Frame(51, 787, 342, 535, (-800, 0), (0, 1))
bl = figure(width=800, height=292, x_range=Range1d(*BL.xr), y_range=Range1d(*BL.yr),
            output_backend="svg", toolbar_location=None,
            min_border_left=51, min_border_right=13, min_border_top=52, min_border_bottom=47, **NOALIGN)
style(bl, bl_xticks, bl_xlabels, unit_yticks, unit_ylabels, 7, 3, 5,
      "Time preceeding ICU transfer T\u209a (hours)", "Normalized risk scale")
title(bl, "Snapshot for the real-time risk scores of a clinically deteriorating patient", 6)

dx, dv = split(det_model)
bl.line(dx, dv, line_color=BLUE, line_width=4.5, line_join="round")
dx, dv = split(det_rothman)
bl.line(dx, dv, line_color=RED, line_width=1.7)
dx, dv = split(det_mews)
bl.line(dx, dv, line_color=GREEN, line_width=2.0)
bl.line(list(BL.xr), [threshold, threshold], line_color="black", line_width=2, line_dash="7 5")

# dashed ellipse around the zoomed window
bl.ellipse(x=[BL.x(688)], y=[BL.y(427)], width=[BL.x(868) - BL.x(688)], height=[BL.y(345) - BL.y(509)],
           fill_color=None, line_color="black", line_width=1.5, line_dash="6 5")

box(bl, BL, 67, 385, 348, 411)
text(bl, BL, 73, 403.5, "Optimal alarm threshold", "24px")
text(bl, BL, 320, 403.5, "\u03b7", "24px", "italic")

# ------------------------------------------------------------------ bottom-right panel (zoom)
BR = Frame(871, 1281, 316, 558, (-300, 0), (0, 1))
br = figure(width=504, height=292, x_range=Range1d(*zoom_window), y_range=Range1d(*BR.yr),
            output_backend="svg", toolbar_location=None,
            min_border_left=71, min_border_right=23, min_border_top=26, min_border_bottom=24, **NOALIGN)
style(br, br_xticks, br_xlabels, unit_yticks, unit_ylabels, 5, 3, 8)

dx, dv = split(det_model)
br.line(dx, dv, line_color=BLUE, line_width=4.5, line_join="round")
dx, dv = split(det_rothman)
br.line(dx, dv, line_color=RED, line_width=1.7)
br.line(list(zoom_window), [threshold, threshold], line_color="black", line_width=2, line_dash="7 5")
ax_, ay_ = split(det_alarms)
br.scatter(ax_, ay_, size=13, fill_color="yellow", line_color="black", line_width=2.5)

box(br, BR, 897, 483, 1063, 551)
text(br, BR, 903, 499.5, "Alarm by the", "21px")
text(br, BR, 903, 523, "developed risk", "21px")
text(br, BR, 903, 546.5, "model", "21px")
arrow(br, BR, (988, 483), (1038, 391), width=1.5)

box(br, BR, 1121, 486, 1277, 534)
text(br, BR, 1127, 502, "Rothman index", "21px")
text(br, BR, 1127, 525, "alarm", "21px")
arrow(br, BR, (1230, 486), (1179, 394), width=1.5)

# ------------------------------------------------------------------ transparent overlay: zoom connectors
ov = figure(width=1304, height=292, x_range=Range1d(0, 1304), y_range=Range1d(582, 290),
            x_axis_location=None, y_axis_location=None, title=None,
            output_backend="svg", toolbar_location=None, min_border=0,
            background_fill_color=None, border_fill_color=None, outline_line_color=None, **NOALIGN)
ov.xgrid.visible = False
ov.ygrid.visible = False
connectors = [((703, 344), (852, 319)), ((677, 508), (852, 560))]   # page pixels (decoration)
ov.segment(x0=[a[0] for a, b in connectors], y0=[a[1] for a, b in connectors],
           x1=[b[0] for a, b in connectors], y1=[b[1] for a, b in connectors],
           line_color="black", line_width=1.8, line_dash="6 5")

layout = GridBox(children=[(top, 0, 0, 1, 2), (bl, 1, 0), (br, 1, 1), (ov, 1, 0, 1, 2)], spacing=0)
open("out.html", "w").write(file_html(layout, INLINE))
